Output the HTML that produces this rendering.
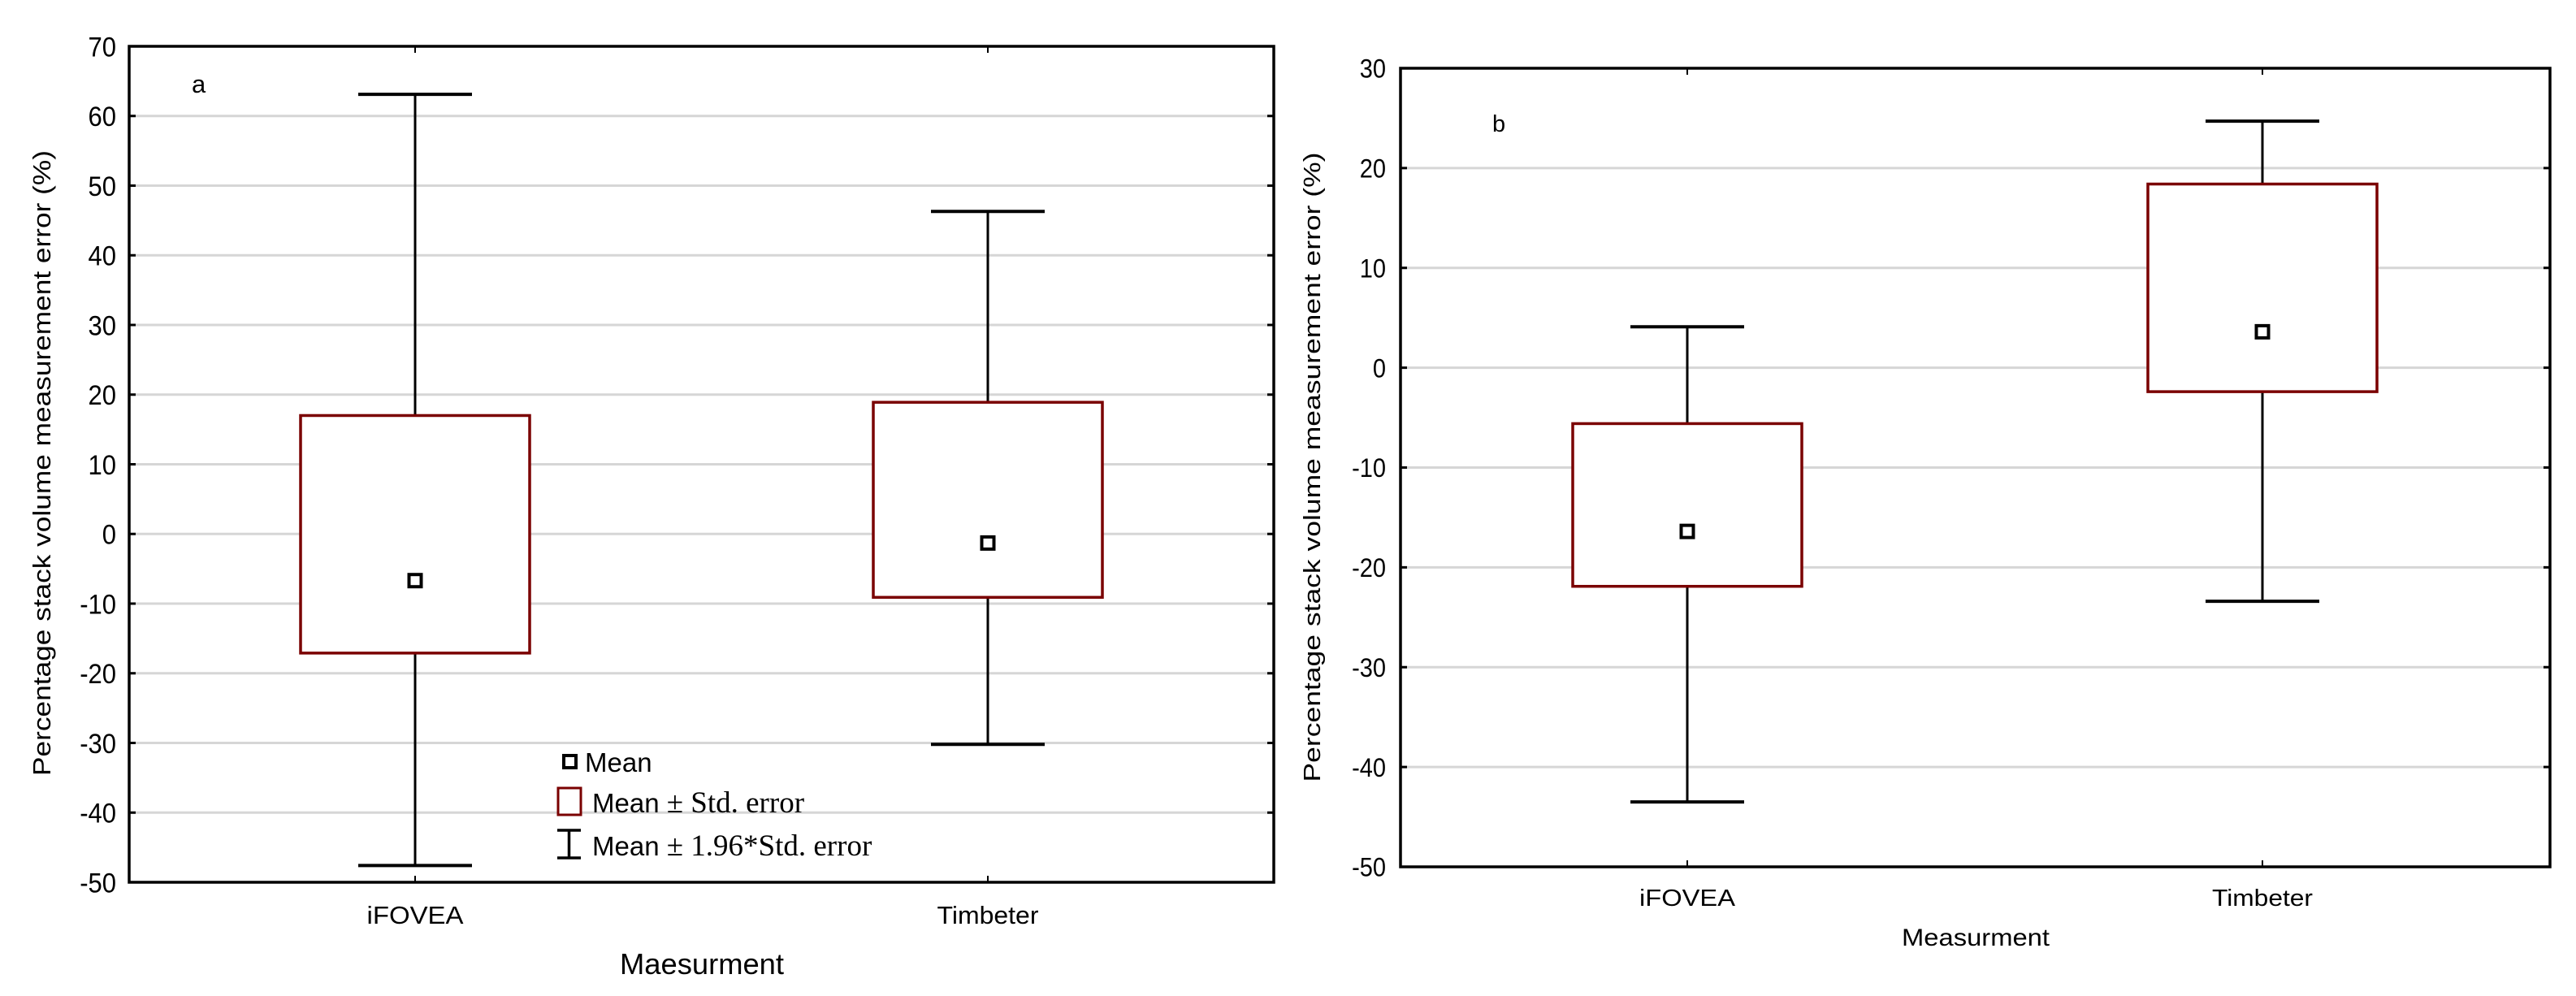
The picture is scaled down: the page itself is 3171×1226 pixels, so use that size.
<!DOCTYPE html>
<html><head><meta charset="utf-8"><style>
html,body{margin:0;padding:0;background:#fff;}
svg{display:block;}
text{font-family:"Liberation Sans",Arial,sans-serif;fill:#000;}
.serif{font-family:"Liberation Serif",serif;font-size:37px;}
</style></head><body>
<svg id="chart" width="3171" height="1226" viewBox="0 0 3171 1226" xmlns="http://www.w3.org/2000/svg"></svg>
<script>
// Panel a data
const catsA = ["iFOVEA", "Timbeter"];
const meanA = [-6.7, -1.3];
const seHighA = [17.0, 18.9];
const seLowA = [-17.1, -9.1];
const ciHighA = [63.1, 46.3];
const ciLowA = [-47.6, -30.2];
const ticksA = [70, 60, 50, 40, 30, 20, 10, 0, -10, -20, -30, -40, -50];
// Panel b data
const catsB = ["iFOVEA", "Timbeter"];
const meanB = [-16.4, 3.6];
const seHighB = [-5.6, 18.4];
const seLowB = [-21.9, -2.4];
const ciHighB = [4.1, 24.7];
const ciLowB = [-43.5, -23.4];
const ticksB = [30, 20, 10, 0, -10, -20, -30, -40, -50];

const NS = "http://www.w3.org/2000/svg";
const svg = document.getElementById("chart");
function el(tag, attrs, parent) {
  const e = document.createElementNS(NS, tag);
  for (const k in attrs) e.setAttribute(k, attrs[k]);
  (parent || svg).appendChild(e);
  return e;
}

function panel(cfg) {
  const g = el("g", {});
  
  
  const y = v => cfg.top + (cfg.ymax - v) / (cfg.ymax - cfg.ymin) * (cfg.bottom - cfg.top);
  const x = i => cfg.centers[i];
  cfg.ticks.forEach(t => {
    if (t !== cfg.ymax && t !== cfg.ymin) {
      const gl = el("line", {x1: cfg.left, x2: cfg.right, y1: y(t), y2: y(t), stroke: "#d6d6d6", "stroke-width": 3}, g);
      
      
    }
    const tl = el("line", {x1: cfg.left, x2: cfg.left + 8, y1: y(t), y2: y(t), stroke: "#000", "stroke-width": 3}, g);
    
    
    const tr = el("line", {x1: cfg.right - 8, x2: cfg.right, y1: y(t), y2: y(t), stroke: "#000", "stroke-width": 3}, g);
    
    
    const lab = el("text", {x: cfg.labelRight, y: y(t) + cfg.fs * 0.36, "text-anchor": "end", "font-size": cfg.fs, transform: `translate(0 ${y(t)}) scale(1 1.12) translate(0 ${-y(t)})`}, g);
    lab.textContent = t;
    
    
  });
  cfg.cats.forEach((c, i) => {
    el("line", {x1: x(i), x2: x(i), y1: cfg.bottom - 8, y2: cfg.bottom, stroke: "#000", "stroke-width": 2}, g);
    el("line", {x1: x(i), x2: x(i), y1: cfg.top, y2: cfg.top + 8, stroke: "#000", "stroke-width": 2}, g);
    const cl = el("text", {x: x(i), y: cfg.catBase, "text-anchor": "middle", "font-size": cfg.fs, textLength: cfg.catW[i], lengthAdjust: "spacingAndGlyphs"}, g);
    cl.textContent = c;
    
    
  });
  cfg.cats.forEach((c, i) => {
    const bg = el("g", {}, g);
    
    
    el("line", {x1: x(i), x2: x(i), y1: y(cfg.ciHigh[i]), y2: y(cfg.ciLow[i]), stroke: "#000", "stroke-width": 3}, bg);
    el("line", {x1: x(i) - 70, x2: x(i) + 70, y1: y(cfg.ciHigh[i]), y2: y(cfg.ciHigh[i]), stroke: "#000", "stroke-width": 4}, bg);
    el("line", {x1: x(i) - 70, x2: x(i) + 70, y1: y(cfg.ciLow[i]), y2: y(cfg.ciLow[i]), stroke: "#000", "stroke-width": 4}, bg);
    el("rect", {x: x(i) - 141, y: y(cfg.seHigh[i]), width: 282, height: y(cfg.seLow[i]) - y(cfg.seHigh[i]), fill: "#fff", stroke: "#7a0000", "stroke-width": 3.5}, bg);
    const m = el("rect", {x: x(i) - 7.5, y: y(cfg.mean[i]) - 7.5, width: 15, height: 15, fill: "#fff", stroke: "#000", "stroke-width": 4}, bg);
    
    
  });
  const fr = el("rect", {x: cfg.left, y: cfg.top, width: cfg.right - cfg.left, height: cfg.bottom - cfg.top, fill: "none", stroke: "#000", "stroke-width": 3.5}, g);
  
  
  const lt = el("text", {x: cfg.letterX, y: cfg.letterY, "font-size": cfg.fs}, g);
  lt.textContent = cfg.letter;
  
  
  const yt = el("text", {x: 0, y: 0, "text-anchor": "middle", "font-size": cfg.fs, textLength: cfg.yTitleLen, lengthAdjust: "spacingAndGlyphs", transform: `translate(${cfg.yTitleX} ${cfg.yTitleY}) rotate(-90)`}, g);
  yt.textContent = "Percentage stack volume measurement error (%)";
  
  
  const xt = el("text", {x: cfg.xTitleX, y: cfg.xTitleBase, "text-anchor": "middle", "font-size": cfg.xfs, textLength: cfg.xTitleLen, lengthAdjust: "spacingAndGlyphs"}, g);
  xt.textContent = cfg.xTitle;
  
  
  return g;
}

panel({name: "panel-a", left: 159, right: 1568, top: 57, bottom: 1086, ymax: 70, ymin: -50,
  centers: [511, 1216], cats: catsA, mean: meanA, seHigh: seHighA, seLow: seLowA, ciHigh: ciHighA, ciLow: ciLowA,
  ticks: ticksA, fs: 31, labelRight: 143, catBase: 1137, catW: [119, 125],
  letter: "a", letterX: 236, letterY: 114, yTitleX: 62, yTitleY: 570, yTitleLen: 770,
  xTitle: "Maesurment", xTitleX: 864, xTitleBase: 1199, xfs: 36, xTitleLen: 202});

panel({name: "panel-b", left: 1724, right: 3139, top: 84, bottom: 1067, ymax: 30, ymin: -50,
  centers: [2077, 2785], cats: catsB, mean: meanB, seHigh: seHighB, seLow: seLowB, ciHigh: ciHighB, ciLow: ciLowB,
  ticks: ticksB, fs: 29, labelRight: 1706, catBase: 1115, catW: [118, 124],
  letter: "b", letterX: 1837, letterY: 162, yTitleX: 1625, yTitleY: 575, yTitleLen: 775,
  xTitle: "Measurment", xTitleX: 2432, xTitleBase: 1164, xfs: 30, xTitleLen: 182});

const lg = el("g", {});


const l1 = el("rect", {x: 694, y: 930, width: 15, height: 15, fill: "#fff", stroke: "#000", "stroke-width": 4}, lg);


const t1 = el("text", {x: 720, y: 950, "font-size": 33}, lg);
t1.textContent = "Mean";


const l2 = el("rect", {x: 687, y: 970, width: 28, height: 33, fill: "#fff", stroke: "#7a0000", "stroke-width": 3}, lg);


const t2 = el("text", {x: 729, y: 1000, "font-size": 33}, lg);
t2.innerHTML = 'Mean <tspan class="serif">± Std. error</tspan>';


const l3 = el("path", {d: "M686 1022 H715 M700.5 1022 V1056 M686 1056 H715", stroke: "#000", "stroke-width": 3.5, fill: "none"}, lg);


const t3 = el("text", {x: 729, y: 1053, "font-size": 33}, lg);
t3.innerHTML = 'Mean <tspan class="serif">± 1.96*Std. error</tspan>';


</script>
</body></html>
